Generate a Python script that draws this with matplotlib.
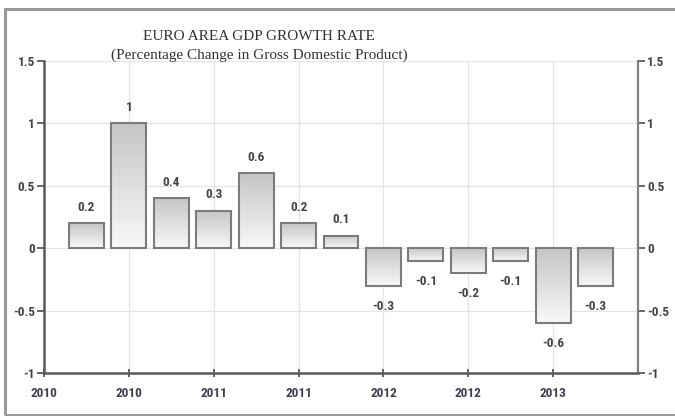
import numpy as np
import matplotlib
matplotlib.use("Agg")
import matplotlib.pyplot as plt
from matplotlib.patches import Rectangle
from matplotlib import font_manager

# Quarterly euro area GDP growth, percent change
growth = [0.2, 1.0, 0.4, 0.3, 0.6, 0.2, 0.1, -0.3, -0.1, -0.2, -0.1, -0.6, -0.3]
value_labels = ["0.2", "1", "0.4", "0.3", "0.6", "0.2", "0.1",
                "-0.3", "-0.1", "-0.2", "-0.1", "-0.6", "-0.3"]
year_labels = ["2010", "2010", "2011", "2011", "2012", "2012", "2013"]
y_ticks = [-1, -0.5, 0, 0.5, 1, 1.5]
y_tick_labels = ["-1", "-0.5", "0", "0.5", "1", "1.5"]

title_lines = ["EURO AREA GDP GROWTH RATE",
               "(Percentage Change in Gross Domestic Product)"]

# Prefer a narrow sans face for the numbers if one is installed
installed = {(f.name, f.stretch) for f in font_manager.fontManager.ttflist}
names = {n for n, _ in installed}
num_family = ["Liberation Sans", "DejaVu Sans"]
num_stretch = "normal"
for cand in ["Liberation Sans Narrow", "Roboto Condensed", "Open Sans Condensed",
             "Noto Sans Condensed"]:
    if cand in names:
        num_family = [cand, "DejaVu Sans"]
        break
else:
    for n, s in installed:
        if n in ("DejaVu Sans", "Noto Sans", "Open Sans") and s in ("condensed", 300):
            num_family = [n, "DejaVu Sans"]
            num_stretch = "condensed"
            break

serif = ["Liberation Serif", "DejaVu Serif"]
label_color = "#444444"

fig = plt.figure(figsize=(6.75, 4.16), dpi=100)
fig.patch.set_facecolor("white")

# Grey frame around the whole graphic
fig.patches.append(Rectangle((5 / 675, 1 / 416), 1.2, 406 / 416,
                             transform=fig.transFigure, fill=False,
                             edgecolor="#9a9a9a", linewidth=2.2, zorder=0))

ax = fig.add_axes([44 / 675, 1 - 373 / 416, 594 / 675, 312 / 416])

positions = np.arange(1, len(growth) + 1)
bar_width = 0.82
bars = ax.bar(positions, growth, width=bar_width, facecolor="none",
              edgecolor="#7c7c7c", linewidth=1.5, zorder=3)

# Vertical grey gradient inside each bar (darker at the top edge)
grad = np.linspace(0, 1, 64).reshape(-1, 1)
cmap = matplotlib.colors.LinearSegmentedColormap.from_list(
    "bargrad", ["#f8f8f8", "#c6c6c6"])
for rect in bars:
    x0 = rect.get_x()
    y_lo = min(rect.get_y(), rect.get_y() + rect.get_height())
    y_hi = max(rect.get_y(), rect.get_y() + rect.get_height())
    im = ax.imshow(grad, cmap=cmap, origin="lower", aspect="auto",
                   extent=(x0, x0 + rect.get_width(), y_lo, y_hi),
                   interpolation="bicubic", zorder=2)
    im.set_clip_path(rect)
ax.set_xlim(0, 14)
ax.set_ylim(-1, 1.5)

num_font = dict(family=num_family, stretch=num_stretch, weight="bold")

# Value labels above positive bars and below negative ones
for x, v, txt in zip(positions, growth, value_labels):
    off = 11.5 if v >= 0 else -15
    ax.annotate(txt, (x, v), xytext=(0, off), textcoords="offset points",
                ha="center", va="center", fontsize=9.5, color=label_color,
                **num_font)

# Grid and ticks
ax.set_yticks(y_ticks)
ax.set_yticklabels(y_tick_labels)
ax.set_xticks(np.arange(0, 13, 2))
ax.set_xticklabels(year_labels)
ax.grid(True, color="#e4e4e4", linewidth=0.9, zorder=0)
ax.set_axisbelow(True)

for side in ("left", "bottom"):
    ax.spines[side].set_color("#5a5a5a")
    ax.spines[side].set_linewidth(1.8)
ax.spines["right"].set_color("#808080")
ax.spines["right"].set_linewidth(1.6)
ax.spines["top"].set_visible(False)

ax.tick_params(axis="y", which="both", left=True, right=True,
               labelleft=True, labelright=True, direction="out",
               length=5, width=1.3, color="#5a5a5a", pad=1.5,
               labelsize=9.5, labelcolor=label_color)
ax.tick_params(axis="x", direction="inout", length=6, width=1.3,
               color="#5a5a5a", pad=7, labelsize=9.5, labelcolor="#3f3f4f")
for t in ax.yaxis.get_major_ticks() + ax.xaxis.get_major_ticks():
    for lab in (t.label1, t.label2):
        lab.set_family(num_family)
        lab.set_stretch(num_stretch)
        lab.set_fontweight("bold")

# Two-line serif title
fig.text(259 / 675, 1 - 37 / 416, title_lines[0], ha="center", va="center",
         family=serif, fontsize=11, color="#333333")
fig.text(259 / 675, 1 - 55 / 416, title_lines[1], ha="center", va="center",
         family=serif, fontsize=11, color="#333333")

fig.savefig("out.png", dpi=100, facecolor="white")
